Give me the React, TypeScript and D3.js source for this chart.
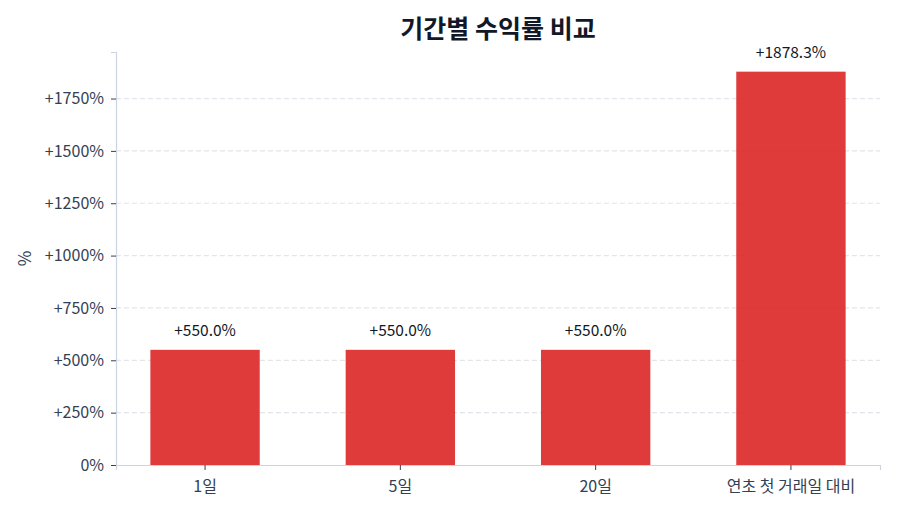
import React, { useEffect, useRef } from 'react';
import * as d3 from 'd3';

const categories = ['1일', '5일', '20일', '연초 첫 거래일 대비'];
const returns = [550.0, 550.0, 550.0, 1878.3];
const yTicks = [0, 250, 500, 750, 1000, 1250, 1500, 1750];

const width = 900;
const height = 514;
const margin = { top: 52, right: 20, bottom: 49, left: 116 };
const font = '"Noto Sans CJK KR", "Noto Sans", sans-serif';

const fmtTick = (v: number) => (v === 0 ? '0%' : `+${v}%`);
const fmtValue = (v: number) => `+${v.toFixed(1)}%`;

const App: React.FC = () => {
  const ref = useRef<SVGSVGElement>(null);

  useEffect(() => {
    document.body.style.margin = '0';
    const svg = d3.select(ref.current);
    svg.selectAll('*').remove();

    const plotW = width - margin.left - margin.right;
    const plotH = height - margin.top - margin.bottom;

    const x = d3.scaleBand<string>()
      .domain(categories)
      .range([0, plotW])
      .paddingInner(0.44)
      .paddingOuter(0.176);

    const y = d3.scaleLinear()
      .domain([0, d3.max(returns)! * 1.05])
      .range([plotH, 0]);

    const g = svg.append('g').attr('transform', `translate(${margin.left},${margin.top})`);

    // grid (behind the bars, shows faintly through them)
    g.append('g')
      .selectAll('line')
      .data(yTicks.filter(t => t > 0))
      .enter()
      .append('line')
      .attr('x1', 0)
      .attr('x2', plotW)
      .attr('y1', d => y(d))
      .attr('y2', d => y(d))
      .attr('stroke', '#e2e5ea')
      .attr('stroke-width', 1.2)
      .attr('stroke-dasharray', '5,3');

    // bars
    g.selectAll('.bar')
      .data(returns)
      .enter()
      .append('rect')
      .attr('x', (_, i) => x(categories[i])!)
      .attr('y', d => y(d))
      .attr('width', x.bandwidth())
      .attr('height', d => plotH - y(d))
      .attr('fill', '#dc2626')
      .attr('fill-opacity', 0.9);

    // y axis
    const yAxis = g.append('g')
      .call(d3.axisLeft(y).tickValues(yTicks).tickFormat(d => fmtTick(+d)).tickSizeOuter(0).tickSize(5).tickPadding(7));
    yAxis.select('.domain').attr('stroke', '#cbd5e1').attr('stroke-width', 1.2);
    yAxis.selectAll('.tick line').attr('stroke', '#334155');
    yAxis.selectAll('.tick text')
      .attr('fill', '#334155')
      .style('font-family', font)
      .style('font-size', '16px');

    // x axis
    const xAxis = g.append('g')
      .attr('transform', `translate(0,${plotH})`)
      .call(d3.axisBottom(x).tickSizeOuter(0).tickSize(5).tickPadding(7));
    xAxis.select('.domain').attr('stroke', '#cbd5e1').attr('stroke-width', 1.2);
    xAxis.selectAll('.tick line').attr('stroke', '#334155');
    xAxis.selectAll('.tick text')
      .attr('fill', '#334155')
      .attr('dy', '0.95em')
      .style('font-family', font)
      .style('font-size', '16px');

    // value labels
    g.selectAll('.val')
      .data(returns)
      .enter()
      .append('text')
      .attr('x', (_, i) => x(categories[i])! + x.bandwidth() / 2)
      .attr('y', d => y(d) - 14)
      .attr('text-anchor', 'middle')
      .attr('fill', '#111827')
      .style('font-family', font)
      .style('font-size', '15.5px')
      .text(d => fmtValue(d));

    // y label
    svg.append('text')
      .attr('transform', `translate(31,${margin.top + plotH / 2}) rotate(-90)`)
      .attr('text-anchor', 'middle')
      .attr('fill', '#334155')
      .style('font-family', font)
      .style('font-size', '17px')
      .text('%');

    // title
    svg.append('text')
      .attr('x', margin.left + plotW / 2)
      .attr('y', 38)
      .attr('text-anchor', 'middle')
      .attr('fill', '#111827')
      .style('font-family', font)
      .style('font-size', '25px')
      .style('font-weight', 'bold')
      .text('기간별 수익률 비교');
  }, []);

  return <svg ref={ref} width={width} height={height} style={{ display: 'block', background: '#fff' }} />;
};

export default App;
